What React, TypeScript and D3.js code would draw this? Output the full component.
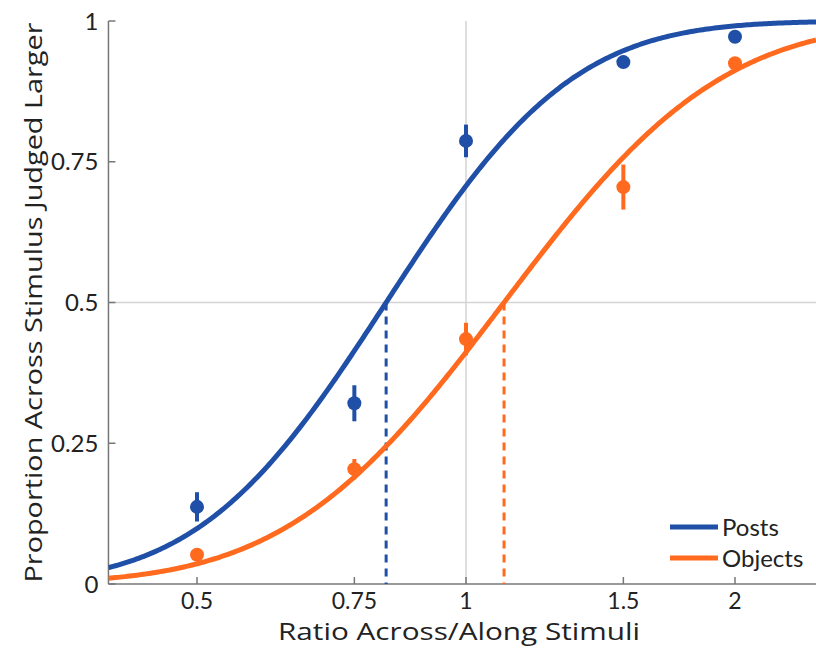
import React from "react";
import * as d3 from "d3";

const ratios = [0.5, 0.75, 1, 1.5, 2];
const postsMean = [0.137, 0.321, 0.787, 0.927, 0.972];
const postsErr = [0.026, 0.032, 0.029, 0.01, 0.006];
const objectsMean = [0.052, 0.204, 0.435, 0.705, 0.925];
const objectsErr = [0.01, 0.018, 0.029, 0.04, 0.01];
// cumulative normal fit on log2(ratio): threshold (PSE) and sigma
const postsFit = { pse: 0.814, sigma: 0.545 };
const objectsFit = { pse: 1.103, sigma: 0.634 };
const xTicks = [0.5, 0.75, 1, 1.5, 2];
const yTicks = [0, 0.25, 0.5, 0.75, 1];
const yTickLabels = ["0", "0.25", "0.5", "0.75", "1"];
const seriesNames = ["Posts", "Objects"];

const BLUE = "#1f4fa6";
const ORANGE = "#ff6a1f";
const FONT = "Lato, 'Open Sans', sans-serif";
const TITLE_FONT = "'Open Sans', Lato, sans-serif";

function normCdf(z: number) {
  const t = 1 / (1 + 0.2316419 * Math.abs(z));
  const d = 0.3989423 * Math.exp((-z * z) / 2);
  const p =
    d * t * (0.3193815 + t * (-0.3565638 + t * (1.781478 + t * (-1.821256 + t * 1.330274))));
  return z > 0 ? 1 - p : p;
}

export default function App() {
  const W = 816;
  const H = 650;
  const x = d3.scaleLog().base(2).domain([0.5, 2]).range([197, 735]);
  const y = d3.scaleLinear().domain([0, 1]).range([584, 21]);
  const xMin = 0.398;
  const xMax = x.invert(W);
  const left = x(xMin);
  const bottom = y(0);

  const fits = [postsFit, objectsFit];
  const means = [postsMean, objectsMean];
  const errs = [postsErr, objectsErr];
  const colors = [BLUE, ORANGE];

  const samples = d3
    .range(0, 301)
    .map((i) => Math.pow(2, Math.log2(xMin) + (i / 300) * (Math.log2(xMax) - Math.log2(xMin))));

  const curve = (fit: { pse: number; sigma: number }) =>
    d3
      .line<number>()
      .x((v) => x(v))
      .y((v) => y(normCdf((Math.log2(v) - Math.log2(fit.pse)) / fit.sigma)))(samples) || "";

  return (
    <svg
      width={W}
      height={H}
      style={{ position: "absolute", left: 0, top: 0, background: "#fff" }}
      fontFamily={FONT}
    >
      <defs>
        <clipPath id="plot">
          <rect x={left} y={0} width={W - left} height={bottom} />
        </clipPath>
      </defs>
      <line x1={left} x2={W} y1={y(0.5)} y2={y(0.5)} stroke="#d4d4d4" strokeWidth={1.5} />
      <line x1={x(1)} x2={x(1)} y1={y(1)} y2={bottom} stroke="#d4d4d4" strokeWidth={1.5} />

      <line x1={left} x2={W} y1={bottom} y2={bottom} stroke="#777" strokeWidth={1.5} />
      <line x1={left} x2={left} y1={y(1)} y2={bottom} stroke="#777" strokeWidth={1.5} />
      {yTicks.map((t, i) => (
        <g key={"y" + t}>
          <line x1={left} x2={left + 7} y1={y(t)} y2={y(t)} stroke="#777" strokeWidth={1.5} />
          <text x={left - 10} y={y(t)} dy="0.36em" textAnchor="end" fontSize={24} fill="#222">
            {yTickLabels[i]}
          </text>
        </g>
      ))}
      {xTicks.map((t) => (
        <g key={"x" + t}>
          <line x1={x(t)} x2={x(t)} y1={bottom} y2={bottom - 7} stroke="#777" strokeWidth={1.5} />
          <text x={x(t)} y={bottom + 25} textAnchor="middle" fontSize={23} fill="#222">
            {String(t)}
          </text>
        </g>
      ))}
      <text
        x={459}
        y={640}
        textAnchor="middle"
        fontSize={23}
        fontFamily={TITLE_FONT}
        fill="#222"
        textLength={362}
        lengthAdjust="spacingAndGlyphs"
      >
        Ratio Across/Along Stimuli
      </text>
      <text
        transform={`translate(42, ${(y(0) + y(1)) / 2}) rotate(-90)`}
        x={-280}
        textAnchor="start"
        fontSize={24}
        fontFamily={TITLE_FONT}
        fill="#222"
        textLength={560}
        lengthAdjust="spacingAndGlyphs"
      >
        Proportion Across Stimulus Judged Larger
      </text>

      {fits.map((f, i) => (
        <line
          key={"d" + i}
          x1={x(f.pse)}
          x2={x(f.pse)}
          y1={y(0.5)}
          y2={bottom}
          stroke={colors[i]}
          strokeWidth={3}
          strokeDasharray="8,6"
        />
      ))}

      <g clipPath="url(#plot)">
        {fits.map((f, i) => (
          <path key={"c" + i} d={curve(f)} fill="none" stroke={colors[i]} strokeWidth={5} />
        ))}
      </g>

      {means.map((m, si) =>
        ratios.map((r, i) => (
          <g key={`p${si}-${i}`}>
            <line
              x1={x(r)}
              x2={x(r)}
              y1={y(m[i] - errs[si][i])}
              y2={y(m[i] + errs[si][i])}
              stroke={colors[si]}
              strokeWidth={4}
            />
            <circle cx={x(r)} cy={y(m[i])} r={7} fill={colors[si]} />
          </g>
        ))
      )}

      {seriesNames.map((n, i) => (
        <g key={n} transform={`translate(670, ${527 + i * 31})`}>
          <line x1={0} x2={48} y1={0} y2={0} stroke={colors[i]} strokeWidth={5} />
          <text x={52} y={0} dy="0.36em" fontSize={24} fill="#222">
            {n}
          </text>
        </g>
      ))}
    </svg>
  );
}
